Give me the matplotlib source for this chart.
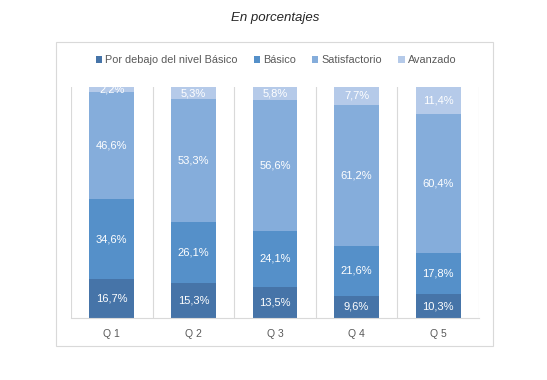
import matplotlib.pyplot as plt
import numpy as np
from matplotlib.patches import Rectangle, Patch

# data
categories = ['Q 1', 'Q 2', 'Q 3', 'Q 4', 'Q 5']
series_names = ['Por debajo del nivel Básico', 'Básico', 'Satisfactorio', 'Avanzado']
por_debajo = [16.7, 15.3, 13.5, 9.6, 10.3]
basico = [34.6, 26.1, 24.1, 21.6, 17.8]
satisfactorio = [46.6, 53.3, 56.6, 61.2, 60.4]
avanzado = [2.2, 5.3, 5.8, 7.7, 11.4]

colors = ['#4674A8', '#5590C9', '#85ADDB', '#B5CAE9']
series = [por_debajo, basico, satisfactorio, avanzado]

plt.rcParams['font.family'] = ['Liberation Sans', 'DejaVu Sans']

fig = plt.figure(figsize=(5.47, 3.80), dpi=100)

# outer chart border
border = Rectangle((0.1024, 0.0895), 0.799, 0.80, transform=fig.transFigure,
                   fill=False, edgecolor='#D9D9D9', linewidth=0.8)
fig.patches.append(border)

ax = fig.add_axes([0.1298, 0.1632, 0.7459, 0.6078])

x = np.arange(len(categories))
bottom = np.zeros(len(categories))
for name, vals, col in zip(series_names, series, colors):
    vals = np.array(vals)
    ax.bar(x, vals, bottom=bottom, width=0.55, color=col, label=name, zorder=2)
    for xi, b, v in zip(x, bottom, vals):
        ax.text(xi, b + v / 2, ('%.1f%%' % v).replace('.', ','), ha='center', va='center',
                color='white', fontsize=8, clip_on=True, zorder=3)
    bottom += vals

ax.set_xlim(-0.5, len(categories) - 0.5)
ax.set_ylim(0, 100)
ax.set_yticks([])
ax.set_xticks(x)
ax.set_xticklabels(categories, fontsize=7.5, color='#595959')
ax.tick_params(axis='x', length=0, pad=8)

# category separators
for b in np.arange(-0.5, len(categories) + 0.5, 1):
    ax.axvline(b, color='#D9D9D9', linewidth=0.8, zorder=1)

for s in ['top', 'left', 'right']:
    ax.spines[s].set_visible(False)
ax.spines['bottom'].set_color('#D9D9D9')
ax.spines['bottom'].set_linewidth(0.8)

fig.text(275 / 547, 1 - 18 / 380, 'En porcentajes', ha='center', va='center',
         fontsize=9.5, style='italic', color='#262626')

handles = [Patch(facecolor=c, edgecolor='none', label=n) for n, c in zip(series_names, colors)]
fig.legend(handles=handles, loc='center', bbox_to_anchor=(276 / 547, 1 - 60 / 380), ncol=4,
           frameon=False, fontsize=7.8, handlelength=0.6, handleheight=0.6,
           handletextpad=0.3, columnspacing=1.45, labelcolor='#595959')

fig.savefig('out.png', dpi=100)
